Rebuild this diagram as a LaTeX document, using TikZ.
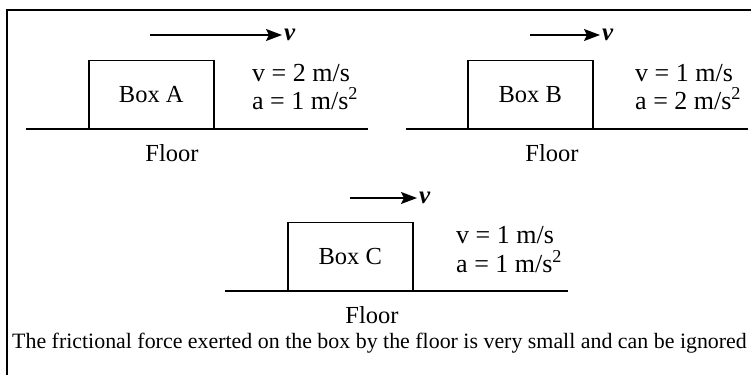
\documentclass[tikz,border=0pt]{standalone}
\usepackage{fontspec}
\setmainfont{Liberation Serif}
\usetikzlibrary{arrows.meta,positioning,calc}

\begin{document}
\begin{tikzpicture}[
  x=1pt, y=-1pt,
  box/.style={
    draw, line width=1.5pt, anchor=south west, inner sep=0pt,
    minimum width=125pt, minimum height=68pt,
    font=\fontsize{24.5}{28}\selectfont},
  floorline/.style={line width=1.5pt},
  frame/.style={line width=1.8pt},
  vel/.style={-{Stealth[length=16pt,width=12pt,inset=3pt]}, line width=1.4pt},
  vlbl/.style={font=\fontsize{25}{28}\selectfont\bfseries\itshape, inner sep=2pt, anchor=west},
  data/.style={font=\fontsize{26}{28}\selectfont, inner sep=0pt, anchor=base west},
  flbl/.style={font=\fontsize{24.5}{28}\selectfont, inner sep=0pt},
  note/.style={font=\fontsize{21.9}{26}\selectfont, inner sep=0pt, anchor=base west},
]
  \useasboundingbox (0,0) rectangle (751,375);

  %% ---- Frame (left and top edges) ----
  \coordinate (fbl) at (7,375);
  \coordinate (ftl) at (7,10);
  \coordinate (ftr) at (751,10);
  \draw[frame] (fbl) -- (ftl) -- (ftr);

  %% ---- Box A ----
  \coordinate (flA1) at (26,129);
  \coordinate (flA2) at (368,129);
  \draw[floorline] (flA1) -- (flA2);
  \node[box] (boxA) at (88,129) {Box A};
  \coordinate (vA0) at (150,35);
  \coordinate (vA1) at (282,35);
  \draw[vel] (vA0) -- (vA1);
  \node[vlbl] (vAl) at (vA1) {v};
  \node[data] (vAv) at (252,81) {v = 2 m/s};
  \node[data] (vAa) at (252,109) {a = 1 m/s\textsuperscript{2}};
  \node[flbl] (flA) at (172,153) {Floor};

  %% ---- Box B ----
  \coordinate (flB1) at (406,129);
  \coordinate (flB2) at (748,129);
  \draw[floorline] (flB1) -- (flB2);
  \node[box] (boxB) at (467,129) {Box B};
  \coordinate (vB0) at (530,35);
  \coordinate (vB1) at (600,35);
  \draw[vel] (vB0) -- (vB1);
  \node[vlbl] (vBl) at (vB1) {v};
  \node[data] (vBv) at (635,81) {v = 1 m/s};
  \node[data] (vBa) at (635,109) {a = 2 m/s\textsuperscript{2}};
  \node[flbl] (flB) at (552,153) {Floor};

  %% ---- Box C ----
  \coordinate (flC1) at (225,291);
  \coordinate (flC2) at (568,291);
  \draw[floorline] (flC1) -- (flC2);
  \node[box] (boxC) at (287,291) {Box C};
  \coordinate (vC0) at (350,198);
  \coordinate (vC1) at (417,198);
  \draw[vel] (vC0) -- (vC1);
  \node[vlbl] (vCl) at (vC1) {v};
  \node[data] (vCv) at (456,243) {v = 1 m/s};
  \node[data] (vCa) at (456,272) {a = 1 m/s\textsuperscript{2}};
  \node[flbl] (flC) at (372,315) {Floor};

  %% ---- Note ----
  \node[note] (note) at (12,348) {The frictional force exerted on the box by the floor is very small and can be ignored};
\end{tikzpicture}
\end{document}
